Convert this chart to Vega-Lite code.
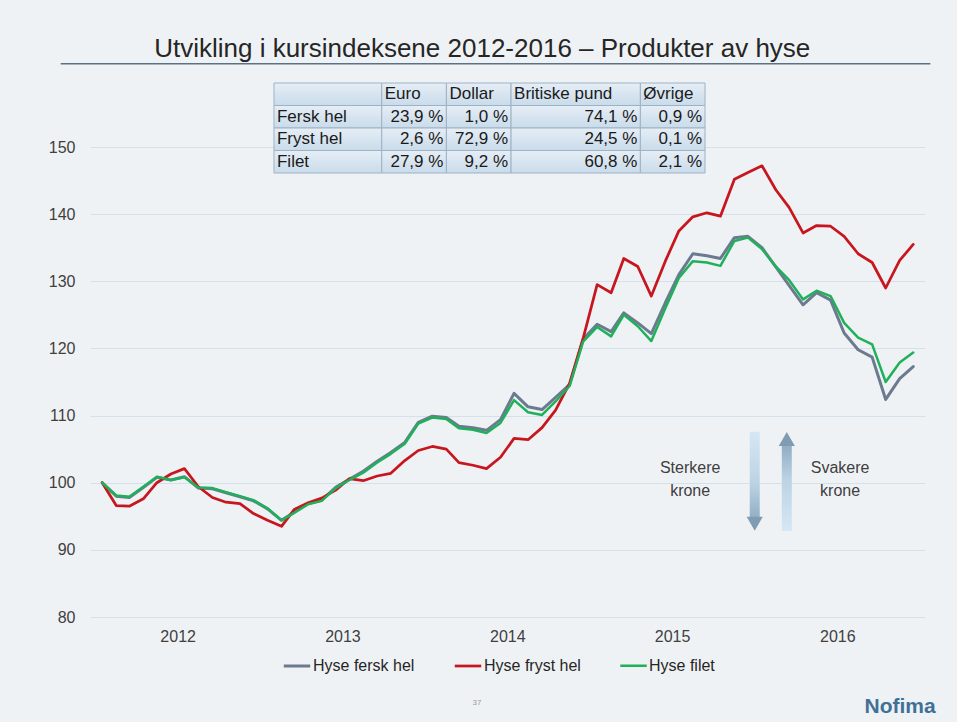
{
  "$schema": "https://vega.github.io/schema/vega-lite/v6.json",
  "width": 835,
  "height": 470,
  "autosize": {"type": "none"},
  "padding": {"left": 90, "top": 147, "right": 32, "bottom": 105},
  "background": "#eff2f5",
  "config": {
    "font": "Liberation Sans",
    "view": {"stroke": null},
    "axis": {"labelFont": "Liberation Sans", "labelColor": "#404040", "labelFontSize": 16, "title": null},
    "legend": {"labelFont": "Liberation Sans"}
  },
  "resolve": {"scale": {"x": "independent", "y": "independent"}},
  "layer": [
    {
      "layer": [
        {
          "data": {"values": [
            {"dato": "2012-01-01", "Hyse fersk hel": 100.0, "Hyse fryst hel": 100.0, "Hyse filet": 100.0},
            {"dato": "2012-02-01", "Hyse fersk hel": 98.0, "Hyse fryst hel": 96.6, "Hyse filet": 98.1},
            {"dato": "2012-03-01", "Hyse fersk hel": 97.8, "Hyse fryst hel": 96.5, "Hyse filet": 97.9},
            {"dato": "2012-04-01", "Hyse fersk hel": 99.3, "Hyse fryst hel": 97.6, "Hyse filet": 99.4},
            {"dato": "2012-05-01", "Hyse fersk hel": 100.8, "Hyse fryst hel": 100.0, "Hyse filet": 100.9},
            {"dato": "2012-06-01", "Hyse fersk hel": 100.4, "Hyse fryst hel": 101.3, "Hyse filet": 100.4},
            {"dato": "2012-07-01", "Hyse fersk hel": 100.9, "Hyse fryst hel": 102.1, "Hyse filet": 100.8},
            {"dato": "2012-08-01", "Hyse fersk hel": 99.2, "Hyse fryst hel": 99.4, "Hyse filet": 99.3},
            {"dato": "2012-09-01", "Hyse fersk hel": 99.1, "Hyse fryst hel": 97.8, "Hyse filet": 99.2},
            {"dato": "2012-10-01", "Hyse fersk hel": 98.5, "Hyse fryst hel": 97.1, "Hyse filet": 98.6},
            {"dato": "2012-11-01", "Hyse fersk hel": 97.9, "Hyse fryst hel": 96.9, "Hyse filet": 98.0},
            {"dato": "2012-12-01", "Hyse fersk hel": 97.3, "Hyse fryst hel": 95.4, "Hyse filet": 97.4},
            {"dato": "2013-01-01", "Hyse fersk hel": 96.1, "Hyse fryst hel": 94.4, "Hyse filet": 96.2},
            {"dato": "2013-02-01", "Hyse fersk hel": 94.4, "Hyse fryst hel": 93.5, "Hyse filet": 94.4},
            {"dato": "2013-03-01", "Hyse fersk hel": 95.6, "Hyse fryst hel": 96.0, "Hyse filet": 95.5},
            {"dato": "2013-04-01", "Hyse fersk hel": 96.9, "Hyse fryst hel": 97.0, "Hyse filet": 96.8},
            {"dato": "2013-05-01", "Hyse fersk hel": 97.4, "Hyse fryst hel": 97.7, "Hyse filet": 97.3},
            {"dato": "2013-06-01", "Hyse fersk hel": 99.3, "Hyse fryst hel": 98.9, "Hyse filet": 99.2},
            {"dato": "2013-07-01", "Hyse fersk hel": 100.5, "Hyse fryst hel": 100.6, "Hyse filet": 100.4},
            {"dato": "2013-08-01", "Hyse fersk hel": 101.7, "Hyse fryst hel": 100.3, "Hyse filet": 101.5},
            {"dato": "2013-09-01", "Hyse fersk hel": 103.2, "Hyse fryst hel": 101.0, "Hyse filet": 103.0},
            {"dato": "2013-10-01", "Hyse fersk hel": 104.5, "Hyse fryst hel": 101.4, "Hyse filet": 104.3},
            {"dato": "2013-11-01", "Hyse fersk hel": 106.0, "Hyse fryst hel": 103.3, "Hyse filet": 105.8},
            {"dato": "2013-12-01", "Hyse fersk hel": 109.0, "Hyse fryst hel": 104.8, "Hyse filet": 108.8},
            {"dato": "2014-01-01", "Hyse fersk hel": 109.9, "Hyse fryst hel": 105.4, "Hyse filet": 109.7},
            {"dato": "2014-02-01", "Hyse fersk hel": 109.7, "Hyse fryst hel": 105.0, "Hyse filet": 109.5},
            {"dato": "2014-03-01", "Hyse fersk hel": 108.4, "Hyse fryst hel": 103.0, "Hyse filet": 108.1},
            {"dato": "2014-04-01", "Hyse fersk hel": 108.2, "Hyse fryst hel": 102.6, "Hyse filet": 107.9},
            {"dato": "2014-05-01", "Hyse fersk hel": 107.8, "Hyse fryst hel": 102.1, "Hyse filet": 107.4},
            {"dato": "2014-06-01", "Hyse fersk hel": 109.4, "Hyse fryst hel": 103.8, "Hyse filet": 108.9},
            {"dato": "2014-07-01", "Hyse fersk hel": 113.3, "Hyse fryst hel": 106.6, "Hyse filet": 112.3},
            {"dato": "2014-08-01", "Hyse fersk hel": 111.3, "Hyse fryst hel": 106.4, "Hyse filet": 110.5},
            {"dato": "2014-09-01", "Hyse fersk hel": 110.9, "Hyse fryst hel": 108.2, "Hyse filet": 110.1},
            {"dato": "2014-10-01", "Hyse fersk hel": 112.7, "Hyse fryst hel": 110.8, "Hyse filet": 112.1},
            {"dato": "2014-11-01", "Hyse fersk hel": 114.6, "Hyse fryst hel": 114.8, "Hyse filet": 114.4},
            {"dato": "2014-12-01", "Hyse fersk hel": 121.4, "Hyse fryst hel": 121.5, "Hyse filet": 121.0},
            {"dato": "2015-01-01", "Hyse fersk hel": 123.6, "Hyse fryst hel": 129.5, "Hyse filet": 123.2},
            {"dato": "2015-02-01", "Hyse fersk hel": 122.5, "Hyse fryst hel": 128.3, "Hyse filet": 121.8},
            {"dato": "2015-03-01", "Hyse fersk hel": 125.3, "Hyse fryst hel": 133.4, "Hyse filet": 125.0},
            {"dato": "2015-04-01", "Hyse fersk hel": 123.8, "Hyse fryst hel": 132.2, "Hyse filet": 123.3},
            {"dato": "2015-05-01", "Hyse fersk hel": 122.2, "Hyse fryst hel": 127.8, "Hyse filet": 121.1},
            {"dato": "2015-06-01", "Hyse fersk hel": 126.8, "Hyse fryst hel": 133.0, "Hyse filet": 126.0},
            {"dato": "2015-07-01", "Hyse fersk hel": 131.0, "Hyse fryst hel": 137.5, "Hyse filet": 130.5},
            {"dato": "2015-08-01", "Hyse fersk hel": 134.1, "Hyse fryst hel": 139.6, "Hyse filet": 133.0},
            {"dato": "2015-09-01", "Hyse fersk hel": 133.8, "Hyse fryst hel": 140.2, "Hyse filet": 132.8},
            {"dato": "2015-10-01", "Hyse fersk hel": 133.4, "Hyse fryst hel": 139.7, "Hyse filet": 132.3},
            {"dato": "2015-11-01", "Hyse fersk hel": 136.5, "Hyse fryst hel": 145.2, "Hyse filet": 136.0},
            {"dato": "2015-12-01", "Hyse fersk hel": 136.7, "Hyse fryst hel": 146.2, "Hyse filet": 136.5},
            {"dato": "2016-01-01", "Hyse fersk hel": 135.0, "Hyse fryst hel": 147.2, "Hyse filet": 134.8},
            {"dato": "2016-02-01", "Hyse fersk hel": 132.1, "Hyse fryst hel": 143.6, "Hyse filet": 132.2},
            {"dato": "2016-03-01", "Hyse fersk hel": 129.4, "Hyse fryst hel": 141.0, "Hyse filet": 130.2},
            {"dato": "2016-04-01", "Hyse fersk hel": 126.5, "Hyse fryst hel": 137.2, "Hyse filet": 127.3},
            {"dato": "2016-05-01", "Hyse fersk hel": 128.3, "Hyse fryst hel": 138.3, "Hyse filet": 128.6},
            {"dato": "2016-06-01", "Hyse fersk hel": 127.2, "Hyse fryst hel": 138.2, "Hyse filet": 127.8},
            {"dato": "2016-07-01", "Hyse fersk hel": 122.3, "Hyse fryst hel": 136.7, "Hyse filet": 123.8},
            {"dato": "2016-08-01", "Hyse fersk hel": 119.8, "Hyse fryst hel": 134.1, "Hyse filet": 121.6},
            {"dato": "2016-09-01", "Hyse fersk hel": 118.7, "Hyse fryst hel": 132.8, "Hyse filet": 120.6},
            {"dato": "2016-10-01", "Hyse fersk hel": 112.4, "Hyse fryst hel": 129.0, "Hyse filet": 115.0},
            {"dato": "2016-11-01", "Hyse fersk hel": 115.5, "Hyse fryst hel": 133.1, "Hyse filet": 117.9},
            {"dato": "2016-12-01", "Hyse fersk hel": 117.3, "Hyse fryst hel": 135.5, "Hyse filet": 119.4}
          ]},
          "transform": [{"fold": ["Hyse fersk hel", "Hyse fryst hel", "Hyse filet"], "as": ["serie", "indeks"]}],
          "mark": {"type": "line", "strokeJoin": "round", "strokeCap": "round"},
          "encoding": {
            "x": {
              "field": "dato", "type": "temporal",
              "scale": {"type": "utc", "domain": [{"year": 2011, "month": 12, "date": 16, "utc": true}, {"year": 2016, "month": 12, "date": 16, "utc": true}]},
              "axis": {
                "values": [
                  {"year": 2012, "month": 6, "date": 16, "utc": true},
                  {"year": 2013, "month": 6, "date": 16, "utc": true},
                  {"year": 2014, "month": 6, "date": 16, "utc": true},
                  {"year": 2015, "month": 6, "date": 16, "utc": true},
                  {"year": 2016, "month": 6, "date": 16, "utc": true}
                ],
                "format": "%Y", "grid": false, "ticks": false, "domain": false, "labelPadding": 11
              }
            },
            "y": {
              "field": "indeks", "type": "quantitative",
              "scale": {"domain": [80, 150], "nice": false, "zero": false},
              "axis": {"values": [80, 90, 100, 110, 120, 130, 140, 150], "grid": true, "gridColor": "#d4e0ea", "gridWidth": 1, "ticks": false, "domain": false, "labelPadding": 15}
            },
            "color": {
              "field": "serie", "type": "nominal",
              "scale": {"domain": ["Hyse fersk hel", "Hyse fryst hel", "Hyse filet"], "range": ["#6b7a8f", "#c8161e", "#1fb15a"]},
              "legend": {
                "title": null, "orient": "none", "direction": "horizontal", "legendX": 192, "legendY": 504,
                "symbolType": "stroke", "symbolSize": 700, "symbolStrokeWidth": 3,
                "labelFontSize": 16, "labelColor": "#262626", "labelOffset": 1, "columnPadding": 34
              }
            },
            "strokeWidth": {
              "field": "serie", "type": "nominal",
              "scale": {"domain": ["Hyse fersk hel", "Hyse fryst hel", "Hyse filet"], "range": [3, 2.5, 3]},
              "legend": null
            }
          }
        },
        {
          "data": {"values": [{}]},
          "mark": {"type": "text", "text": "Utvikling i kursindeksene 2012-2016 – Produkter av hyse", "fontSize": 26, "color": "#262626", "align": "left", "baseline": "alphabetic"},
          "encoding": {
            "x": {"datum": {"year": 2012, "month": 4, "date": 25, "utc": true}, "type": "temporal"},
            "y": {"datum": 163.4, "type": "quantitative"}
          }
        },
        {
          "data": {"values": [{}]},
          "mark": {"type": "rule", "color": "#5a7288", "strokeWidth": 1.5},
          "encoding": {
            "x": {"datum": {"year": 2011, "month": 10, "date": 1, "utc": true}, "type": "temporal"},
            "x2": {"datum": {"year": 2017, "month": 1, "date": 8, "utc": true}},
            "y": {"datum": 162.4, "type": "quantitative"}
          }
        },
        {
          "data": {"values": [{}]},
          "mark": {"type": "bar", "width": 10, "fill": {"gradient": "linear", "x1": 0, "y1": 0, "x2": 0, "y2": 1, "stops": [{"offset": 0, "color": "#d6e7f4"}, {"offset": 0.6, "color": "#bcd3e4"}, {"offset": 1, "color": "#93b0c6"}]}},
          "encoding": {
            "x": {"datum": {"year": 2015, "month": 12, "date": 16, "utc": true}, "type": "temporal"},
            "y": {"datum": 107.6, "type": "quantitative"},
            "y2": {"datum": 94.9}
          }
        },
        {
          "data": {"values": [{}]},
          "mark": {"type": "point", "shape": "triangle-down", "filled": true, "size": 260, "color": "#7f9cb3", "opacity": 1},
          "encoding": {
            "x": {"datum": {"year": 2015, "month": 12, "date": 16, "utc": true}, "type": "temporal"},
            "y": {"datum": 93.9, "type": "quantitative"}
          }
        },
        {
          "data": {"values": [{}]},
          "mark": {"type": "bar", "width": 10, "fill": {"gradient": "linear", "x1": 0, "y1": 0, "x2": 0, "y2": 1, "stops": [{"offset": 0, "color": "#8fadc4"}, {"offset": 0.4, "color": "#bcd3e4"}, {"offset": 1, "color": "#d6e7f4"}]}},
          "encoding": {
            "x": {"datum": {"year": 2016, "month": 2, "date": 25, "utc": true}, "type": "temporal"},
            "y": {"datum": 105.6, "type": "quantitative"},
            "y2": {"datum": 92.8}
          }
        },
        {
          "data": {"values": [{}]},
          "mark": {"type": "point", "shape": "triangle-up", "filled": true, "size": 260, "color": "#7f9cb3", "opacity": 1},
          "encoding": {
            "x": {"datum": {"year": 2016, "month": 2, "date": 25, "utc": true}, "type": "temporal"},
            "y": {"datum": 106.5, "type": "quantitative"}
          }
        },
        {
          "data": {"values": [{}]},
          "mark": {"type": "text", "text": "Sterkere\nkrone", "lineBreak": "\n", "lineHeight": 23, "fontSize": 16, "color": "#404040", "align": "center", "baseline": "middle"},
          "encoding": {
            "x": {"datum": {"year": 2015, "month": 7, "date": 26, "utc": true}, "type": "temporal"},
            "y": {"datum": 102.2, "type": "quantitative"}
          }
        },
        {
          "data": {"values": [{}]},
          "mark": {"type": "text", "text": "Svakere\nkrone", "lineBreak": "\n", "lineHeight": 23, "fontSize": 16, "color": "#404040", "align": "center", "baseline": "middle"},
          "encoding": {
            "x": {"datum": {"year": 2016, "month": 6, "date": 22, "utc": true}, "type": "temporal"},
            "y": {"datum": 102.2, "type": "quantitative"}
          }
        },
        {
          "data": {"values": [{}]},
          "mark": {"type": "text", "text": "37", "fontSize": 8, "color": "#9a9a9a", "align": "center", "baseline": "middle"},
          "encoding": {
            "x": {"datum": {"year": 2014, "month": 4, "date": 10, "utc": true}, "type": "temporal"},
            "y": {"datum": 67.2, "type": "quantitative"}
          }
        },
        {
          "data": {"values": [{}]},
          "mark": {"type": "text", "text": "Nofima", "fontSize": 21, "fontWeight": "bold", "color": "#3f7197", "align": "center", "baseline": "middle"},
          "encoding": {
            "x": {"datum": {"year": 2016, "month": 11, "date": 2, "utc": true}, "type": "temporal"},
            "y": {"datum": 66.6, "type": "quantitative"}
          }
        }
      ]
    },
    {
      "data": {"values": [
        {"rad": "header", "nesteRad": "Fersk hel", "kol": "label", "nesteKol": "Euro", "tekst": ""},
        {"rad": "header", "nesteRad": "Fersk hel", "kol": "Euro", "nesteKol": "Dollar", "tekst": "Euro"},
        {"rad": "header", "nesteRad": "Fersk hel", "kol": "Dollar", "nesteKol": "Britiske pund", "tekst": "Dollar"},
        {"rad": "header", "nesteRad": "Fersk hel", "kol": "Britiske pund", "nesteKol": "Øvrige", "tekst": "Britiske pund"},
        {"rad": "header", "nesteRad": "Fersk hel", "kol": "Øvrige", "nesteKol": "slutt", "tekst": "Øvrige"},
        {"rad": "Fersk hel", "nesteRad": "Fryst hel", "kol": "label", "nesteKol": "Euro", "tekst": "Fersk hel"},
        {"rad": "Fersk hel", "nesteRad": "Fryst hel", "kol": "Euro", "nesteKol": "Dollar", "tekst": "23,9 %"},
        {"rad": "Fersk hel", "nesteRad": "Fryst hel", "kol": "Dollar", "nesteKol": "Britiske pund", "tekst": "1,0 %"},
        {"rad": "Fersk hel", "nesteRad": "Fryst hel", "kol": "Britiske pund", "nesteKol": "Øvrige", "tekst": "74,1 %"},
        {"rad": "Fersk hel", "nesteRad": "Fryst hel", "kol": "Øvrige", "nesteKol": "slutt", "tekst": "0,9 %"},
        {"rad": "Fryst hel", "nesteRad": "Filet", "kol": "label", "nesteKol": "Euro", "tekst": "Fryst hel"},
        {"rad": "Fryst hel", "nesteRad": "Filet", "kol": "Euro", "nesteKol": "Dollar", "tekst": "2,6 %"},
        {"rad": "Fryst hel", "nesteRad": "Filet", "kol": "Dollar", "nesteKol": "Britiske pund", "tekst": "72,9 %"},
        {"rad": "Fryst hel", "nesteRad": "Filet", "kol": "Britiske pund", "nesteKol": "Øvrige", "tekst": "24,5 %"},
        {"rad": "Fryst hel", "nesteRad": "Filet", "kol": "Øvrige", "nesteKol": "slutt", "tekst": "0,1 %"},
        {"rad": "Filet", "nesteRad": "slutt", "kol": "label", "nesteKol": "Euro", "tekst": "Filet"},
        {"rad": "Filet", "nesteRad": "slutt", "kol": "Euro", "nesteKol": "Dollar", "tekst": "27,9 %"},
        {"rad": "Filet", "nesteRad": "slutt", "kol": "Dollar", "nesteKol": "Britiske pund", "tekst": "9,2 %"},
        {"rad": "Filet", "nesteRad": "slutt", "kol": "Britiske pund", "nesteKol": "Øvrige", "tekst": "60,8 %"},
        {"rad": "Filet", "nesteRad": "slutt", "kol": "Øvrige", "nesteKol": "slutt", "tekst": "2,1 %"}
      ]},
      "layer": [
        {
          "mark": {"type": "rect", "stroke": "#9db2c5", "strokeWidth": 1, "fill": {"gradient": "linear", "x1": 0, "y1": 0, "x2": 0, "y2": 1, "stops": [{"offset": 0, "color": "#e6eef6"}, {"offset": 1, "color": "#c9dbea"}]}},
          "encoding": {
            "x": {"field": "kol", "type": "nominal", "bandPosition": 0.5, "scale": {"type": "band", "domain": ["label", "l1", "l2", "l3", "l4", "Euro", "e1", "e2", "Dollar", "d1", "d2", "Britiske pund", "b1", "b2", "b3", "b4", "b5", "Øvrige", "o1", "o2", "slutt"], "range": [173.2, 625.8], "paddingInner": 0, "paddingOuter": 0}, "axis": null},
            "x2": {"field": "nesteKol"},
            "y": {"field": "rad", "type": "nominal", "bandPosition": 0.5, "scale": {"type": "band", "domain": ["header", "Fersk hel", "Fryst hel", "Filet", "slutt"], "range": [-75.25, 37.25], "paddingInner": 0, "paddingOuter": 0}, "axis": null},
            "y2": {"field": "nesteRad"}
          }
        },
        {
          "transform": [{"filter": "datum.rad == 'header' || datum.kol == 'label'"}],
          "mark": {"type": "text", "align": "left", "baseline": "middle", "dx": 3, "fontSize": 17, "color": "#1a1a1a"},
          "encoding": {
            "x": {"field": "kol", "type": "nominal", "bandPosition": 0.5, "axis": null},
            "y": {"field": "rad", "type": "nominal", "bandPosition": 1, "axis": null},
            "text": {"field": "tekst"}
          }
        },
        {
          "transform": [{"filter": "datum.rad != 'header' && datum.kol != 'label'"}],
          "mark": {"type": "text", "align": "right", "baseline": "middle", "dx": -3, "fontSize": 17, "color": "#1a1a1a"},
          "encoding": {
            "x": {"field": "nesteKol", "type": "nominal", "bandPosition": 0.5, "axis": null},
            "y": {"field": "rad", "type": "nominal", "bandPosition": 1, "axis": null},
            "text": {"field": "tekst"}
          }
        }
      ]
    }
  ]
}
